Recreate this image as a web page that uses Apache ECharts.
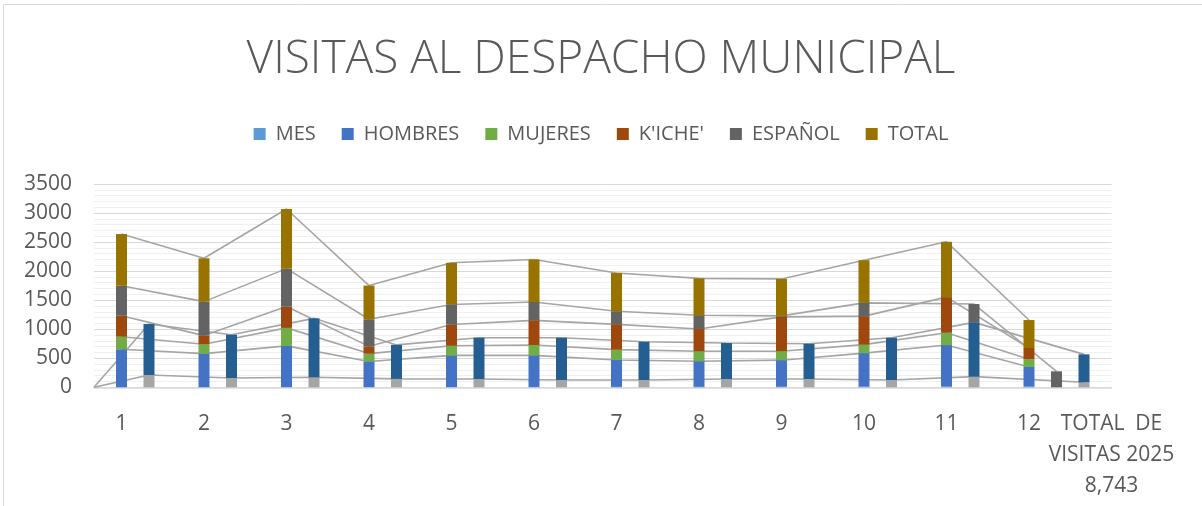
<!DOCTYPE html>
<html>
<head>
<meta charset="utf-8">
<script src="https://cdn.jsdelivr.net/npm/echarts@6/dist/echarts.min.js"></script>
<style>
  html, body { margin: 0; padding: 0; background: #ffffff; }
  #chart { width: 1202px; height: 506px; }
</style>
</head>
<body>
<div id="chart"></div>
<script>
// ---- Data ----
const MESES = ['1','2','3','4','5','6','7','8','9','10','11','12'];
const ETIQUETA_TOTAL = 'TOTAL  DE\nVISITAS 2025\n8,743';
const MES      = [1,2,3,4,5,6,7,8,9,10,11,12];
const HOMBRES  = [654,578,710,441,544,544,464,441,458,578,716,338];
const MUJERES  = [216,162,310,135,166,178,178,171,154,147,213,132];
const KICHE    = [361,148,367,125,367,424,435,385,592,490,612,195];
const ESPANOL  = [516,585,653,466,344,316,224,235,17,229,null,null];
const TOTAL    = [890,746,1027,580,717,733,660,636,636,734,953,481];
// unlabeled series drawn beside each month's column
const SERIE_GRIS   = [212,160,172,145,143,126,126,143,143,126,183,86];
const SERIE_AZUL   = [877,745,1015,585,710,727,658,619,607,727,935,481];
const ESPANOL_LADO = [null,null,null,null,null,null,null,null,null,null,315,275];
const Y_TICKS = [0,500,1000,1500,2000,2500,3000,3500];

// ---- Category slots (3 per month, Excel-like layout) ----
const N = 38;
const labels = new Array(N).fill('');
MESES.forEach((m, i) => { labels[3 * i + 1] = m; });
labels[N - 1] = ETIQUETA_TOTAL;

const mainSlot = i => 3 * i + 1;
const sideSlot = i => 3 * i + 2;
const sideSlotGA = i => (i === 11 ? 36 : 3 * i + 2);

function emptyArr() { return new Array(N).fill(null); }
const S = {
  MES: emptyArr(), GRIS: emptyArr(), HOMBRES: emptyArr(), MUJERES: emptyArr(),
  AZUL: emptyArr(), KICHE: emptyArr(), ESPANOL: emptyArr(), TOTAL: emptyArr()
};
for (let i = 0; i < 12; i++) {
  S.MES[mainSlot(i)] = MES[i];
  S.HOMBRES[mainSlot(i)] = HOMBRES[i];
  S.MUJERES[mainSlot(i)] = MUJERES[i];
  S.KICHE[mainSlot(i)] = KICHE[i];
  if (ESPANOL[i] != null) S.ESPANOL[mainSlot(i)] = ESPANOL[i];
  if (ESPANOL_LADO[i] != null) S.ESPANOL[sideSlot(i)] = ESPANOL_LADO[i];
  S.TOTAL[mainSlot(i)] = TOTAL[i];
  S.GRIS[sideSlotGA(i)] = SERIE_GRIS[i];
  S.AZUL[sideSlotGA(i)] = SERIE_AZUL[i];
}
S.GRIS[0] = 0; S.AZUL[0] = 0;

const ORDER = ['MES','GRIS','HOMBRES','MUJERES','AZUL','KICHE','ESPANOL','TOTAL'];
const NAMES = {MES:'MES', GRIS:'Serie gris', HOMBRES:'HOMBRES', MUJERES:'MUJERES', AZUL:'Serie azul', KICHE:"K'ICHE'", ESPANOL:'ESPAÑOL', TOTAL:'TOTAL'};
const COLORS = {MES:'#5B9BD5', GRIS:'#A5A5A5', HOMBRES:'#4472C4', MUJERES:'#70AD47', AZUL:'#255E91', KICHE:'#9E480E', ESPANOL:'#636363', TOTAL:'#997300'};

const series = [];
ORDER.forEach(k => {
  series.push({
    name: NAMES[k], type: 'bar', stack: 'all', barWidth: 11, z: 3,
    itemStyle: { color: COLORS[k] },
    data: S[k].map(v => (v == null ? 0 : v))
  });
});
// series lines: connect each series' segment tops between consecutive columns
ORDER.forEach((k, idx) => {
  if (k === 'MES') return;
  const d = emptyArr();
  for (let j = 0; j < N; j++) {
    if (S[k][j] == null) continue;
    let cum = 0;
    for (let t = 0; t <= idx; t++) { const v = S[ORDER[t]][j]; if (v != null) cum += v; }
    d[j] = cum;
  }
  series.push({
    name: 'linea-' + k, type: 'line', data: d, connectNulls: true, symbol: 'none',
    silent: true, z: 1, lineStyle: { color: '#A5A5A5', width: 1.6 }
  });
});

const FONT = "'Open Sans', 'Liberation Sans', sans-serif";
const chart = echarts.init(document.getElementById('chart'), null, { renderer: 'canvas' });
chart.setOption({
  animation: false,
  backgroundColor: '#ffffff',
  title: {
    text: 'VISITAS AL DESPACHO MUNICIPAL', left: 'center', top: 32,
    textStyle: { fontFamily: FONT, fontSize: 46, fontWeight: 300, color: '#595959' }
  },
  legend: {
    data: ['MES','HOMBRES','MUJERES',"K'ICHE'",'ESPAÑOL','TOTAL'],
    top: 119, left: 'center', icon: 'rect', itemWidth: 12, itemHeight: 12, itemGap: 26,
    textStyle: { fontFamily: FONT, fontSize: 20, color: '#595959', padding: [0,0,0,5] }
  },
  grid: { left: 94, right: 90.5, top: 184, bottom: 118.7, containLabel: false },
  xAxis: {
    type: 'category', data: labels, boundaryGap: false,
    axisTick: { show: false },
    axisLine: { lineStyle: { color: '#D9D9D9', width: 1.5 } },
    axisLabel: { interval: 0, margin: 21, fontFamily: FONT, fontSize: 21, color: '#595959', lineHeight: 31, align: 'center' },
    splitLine: { show: false }
  },
  yAxis: {
    type: 'value', min: Y_TICKS[0], max: Y_TICKS[Y_TICKS.length - 1], interval: Y_TICKS[1] - Y_TICKS[0],
    axisLine: { show: false }, axisTick: { show: false },
    axisLabel: { margin: 22, fontFamily: FONT, fontSize: 21, color: '#595959', formatter: v => String(v) },
    splitLine: { lineStyle: { color: '#D9D9D9', width: 1 } },
    minorTick: { show: false, splitNumber: 5 },
    minorSplitLine: { show: true, lineStyle: { color: '#F0F0F0', width: 1 } }
  },
  graphic: [{
    type: 'rect', z: 100, silent: true,
    shape: { x: 3.5, y: 4.5, width: 1400, height: 700 },
    style: { fill: null, stroke: '#D9D9D9', lineWidth: 1 }
  }],
  series: series
});
</script>
</body>
</html>
